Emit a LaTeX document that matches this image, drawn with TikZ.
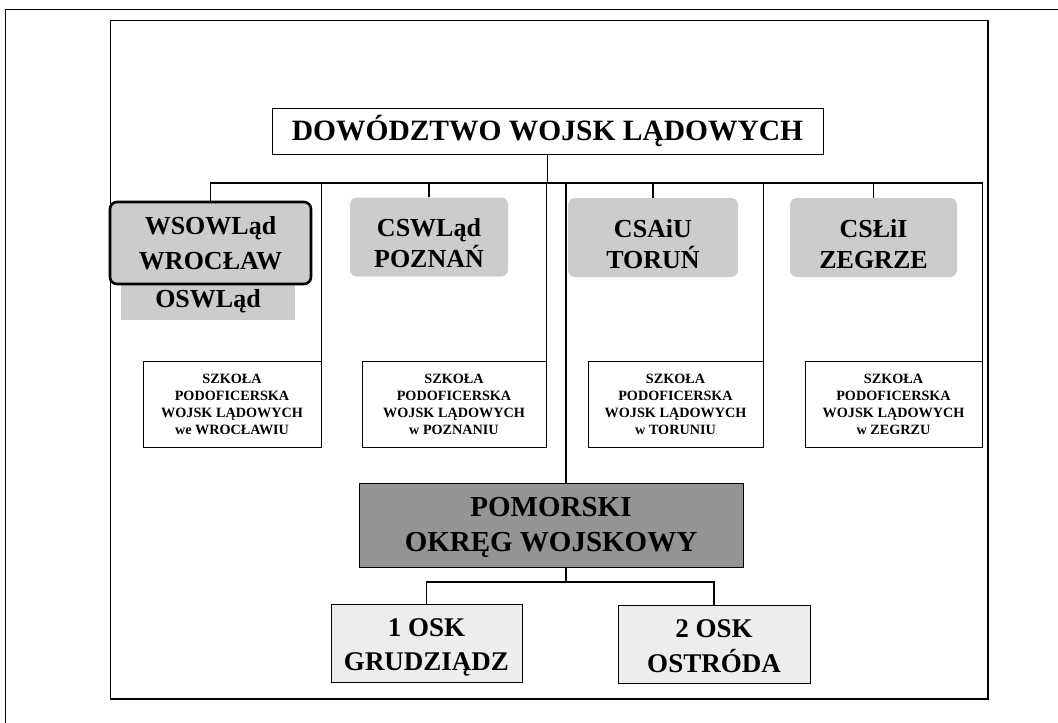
\documentclass[tikz,border=0pt]{standalone}
\usepackage{fontspec}
\setmainfont{Liberation Serif}
\usetikzlibrary{positioning}
\newcommand{\lift}[1]{\rule{0pt}{#1}}

\begin{document}
\begin{tikzpicture}[x=1pt,y=-1pt]
\tikzset{
	box/.style={draw, line width=0.8pt, inner sep=0pt, align=center},
	unit/.style={box, draw=none, fill=black!20, rounded corners=7pt, minimum height=79pt, font=\fontsize{26}{31}\selectfont\bfseries},
	school/.style={box, minimum height=86pt, font=\fontsize{14.2}{17}\selectfont\bfseries},
	osk/.style={box, fill=black!7, minimum width=191pt, minimum height=78pt, font=\fontsize{27}{34.5}\selectfont\bfseries},
	conn/.style={line width=1.8pt},
}
	\useasboundingbox (0,0) rectangle (1058,723);
	% frames
	\draw[line width=1pt] (5,723) -- (5,9) -- (1058,9);
	\draw[line width=0.8pt] (110,20) rectangle (988,699);
	\draw[line width=2.5pt] (111,699) -- (988,699) -- (988,21);

	\node[box, minimum width=551pt, minimum height=46pt, font=\fontsize{29.5}{35}\selectfont\bfseries] (hq) at (547.5,131) {DOWÓDZTWO WOJSK LĄDOWYCH};

	\node[unit, minimum width=174pt, minimum height=38pt, rounded corners=0pt] (osw) at (208,301) {OSWLąd};
	\node[unit, draw, line width=2.6pt, minimum width=201pt, minimum height=82pt, font=\fontsize{26}{35}\selectfont\bfseries] (wso) at (210.5,243) {WSOWLąd\\WROCŁAW};
	\node[unit, minimum width=158pt] (csw) at (429,237) {\lift{31pt}CSWLąd\\POZNAŃ};
	\node[unit, minimum width=170pt] (csa) at (653,237.5) {\lift{31pt}CSAiU\\TORUŃ};
	\node[unit, minimum width=167pt] (csl) at (873.5,237.5) {\lift{31pt}CSŁiI\\ZEGRZE};

	\node[school, minimum width=178pt] (sp1) at (232,404) {SZKOŁA\\PODOFICERSKA\\WOJSK LĄDOWYCH\\we WROCŁAWIU};
	\node[school, minimum width=184pt] (sp2) at (454,404) {SZKOŁA\\PODOFICERSKA\\WOJSK LĄDOWYCH\\w POZNANIU};
	\node[school, minimum width=175pt] (sp3) at (675.5,404) {SZKOŁA\\PODOFICERSKA\\WOJSK LĄDOWYCH\\w TORUNIU};
	\node[school, minimum width=177pt] (sp4) at (893.5,404) {SZKOŁA\\PODOFICERSKA\\WOJSK LĄDOWYCH\\w ZEGRZU};

	\node[box, fill=black!42, minimum width=384pt, minimum height=84pt, font=\fontsize{29}{35}\selectfont\bfseries] (pow) at (551,525) {\lift{25pt}POMORSKI\\OKRĘG WOJSKOWY};

	\node[osk] (osk1) at (426.5,643) {\lift{27pt}1 OSK\\GRUDZIĄDZ};
	\node[osk, minimum width=192pt] (osk2) at (714,644.5) {\lift{21pt}2 OSK\\OSTRÓDA};

	\coordinate (bus) at (547.5,183);
	\coordinate (pbus) at (566,582);
	\coordinate (pin) at (pow.north -| pbus);
	\coordinate (pout) at (pow.south -| pbus);

	\draw[conn] (hq.south) -- (bus);
	\draw[conn] (wso.north) |- (bus) -| (sp4.north east);
	\draw[conn] (csw.north) -- (csw.north |- bus);
	\draw[conn] (csa.north) -- (csa.north |- bus);
	\draw[conn] (csl.north) -- (csl.north |- bus);
	\draw[conn] (sp1.north east) -- (sp1.north east |- bus);
	\draw[conn] (sp2.north east) -- (sp2.north east |- bus);
	\draw[conn] (sp3.north east) -- (sp3.north east |- bus);
	\draw[conn] (pin) -- (pin |- bus);
	\draw[conn] (pout) -- (pbus);
	\draw[conn] (osk1.north) |- (pbus) -| (osk2.north);
\end{tikzpicture}
\end{document}
